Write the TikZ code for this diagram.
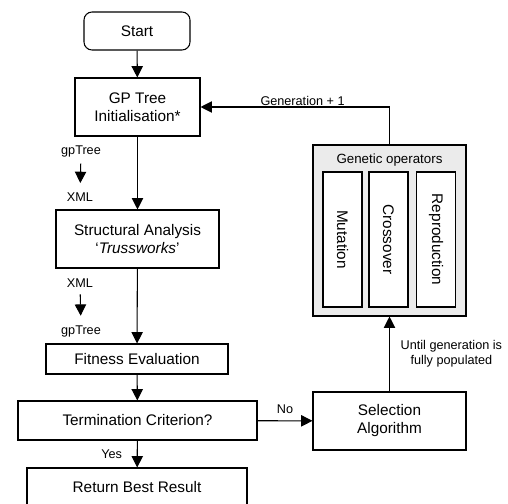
\documentclass[tikz,border=0pt]{standalone}
\usepackage{fontspec}
\setmainfont{Liberation Sans}
\usetikzlibrary{arrows.meta}

\tikzset{
    block/.style={draw, line width=0.8pt, align=center, inner sep=0pt, font=\fontsize{11.5}{13.5}\selectfont},
    opbox/.style={draw, line width=0.8pt, fill=white, minimum width=29.25pt, minimum height=101.25pt, inner sep=0pt, font=\fontsize{11.5}{13.5}\selectfont},
    tag/.style={font=\fontsize{9.5}{11}\selectfont, inner sep=1pt, align=center},
    flow/.style={line width=0.8pt, -{Triangle[length=8.5pt,width=8.5pt]}},
}

\begin{document}
\begin{tikzpicture}[x=0.75pt, y=-0.75pt]
        \useasboundingbox (0,0) rectangle (508,504);

        \node[block, rounded corners=6pt, minimum width=79.5pt, minimum height=28.5pt] (start) at (137,31) {Start};
        \node[block, minimum width=93.75pt, minimum height=43.5pt] (init) at (137.5,107) {GP Tree\\Initialisation*};
        \node[block, minimum width=122.25pt, minimum height=43.5pt] (struct) at (137.5,239) {Structural Analysis\\`\textit{Trussworks}'};
        \node[block, minimum width=136.5pt, minimum height=22.5pt] (fit) at (137,359) {Fitness Evaluation};
        \node[block, minimum width=179.25pt, minimum height=29.25pt] (term) at (137.5,420.5) {Termination Criterion?};
        \node[block, minimum width=165pt, minimum height=28.5pt] (best) at (137,487) {Return Best Result};
        \node[block, minimum width=114.75pt, minimum height=43.5pt] (sel) at (389.5,421) {Selection\\Algorithm};

        \node[draw, line width=0.8pt, fill=black!8, minimum width=114.75pt, minimum height=128.25pt] (ops) at (389.5,230.5) {};
        \node[font=\fontsize{10}{12}\selectfont] (opstitle) at (389.5,160) {Genetic operators};
        \node[opbox] (mut) at (342.5,239.5) {\rotatebox{-90}{Mutation}};
        \node[opbox] (cross) at (388.5,239.5) {\rotatebox{-90}{Crossover}};
        \node[opbox] (repro) at (436,239.5) {\rotatebox{-90}{Reproduction}};

        \node[tag] (gp1) at (81,151) {gpTree};
        \node[tag] (xml1) at (80,197) {XML};
        \node[tag] (xml2) at (80,283) {XML};
        \node[tag] (gp2) at (81,331) {gpTree};

        \draw[flow] (start) -- (init);
        \draw[flow] (init) -- (struct);
        \draw[flow] (struct) -- (fit);
        \draw[flow] (fit) -- (term);
        \draw[flow] (term) -- node[tag, left=10pt] {Yes} (best);
        \draw[flow] (term) -- node[tag, above=4pt] {No} (sel);
        \draw[flow] (sel) -- node[tag, right=7pt] {Until generation is\\fully populated} (ops);
        \draw[flow] (ops.north) |- node[tag, above, pos=0.73, inner sep=0.5pt] {Generation + 1} (init.east);

        \draw[flow, shorten <=4pt, shorten >=6pt] (gp1) -- (xml1);
        \draw[flow, shorten <=4pt, shorten >=6pt] (xml2) -- (gp2);

    \end{tikzpicture}
\end{document}
